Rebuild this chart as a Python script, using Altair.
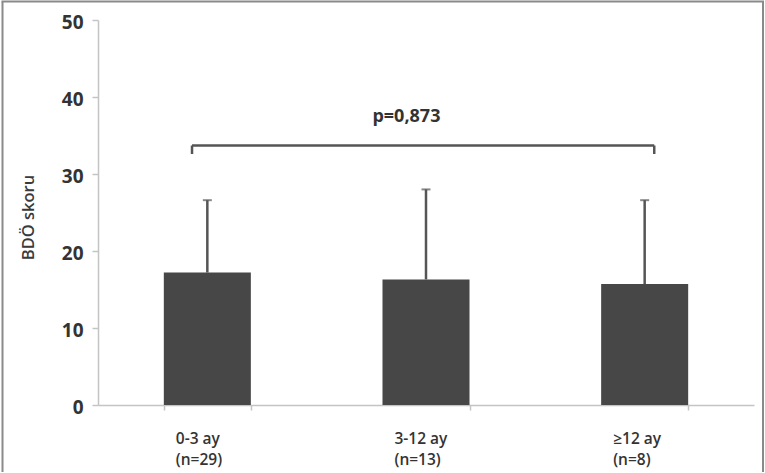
import altair as alt
import pandas as pd

# Data
categories = ["0-3 ay|(n=29)", "3-12 ay|(n=13)", "≥12 ay|(n=8)"]
means = [17.2, 16.3, 15.7]
sds = [9.4, 11.7, 10.9]
p_label = "p=0,873"
bracket_y = 33.7
bracket_drop = 32.6
p_y = 36.8

df = pd.DataFrame({"group": categories, "mean": means, "sd": sds})
df["upper"] = df["mean"] + df["sd"]

FONT = "Open Sans"
TXT = "#333333"
AXC = "#c4c4c4"

xscale = alt.Scale(domain=categories, paddingInner=0.602, paddingOuter=0.301)
yscale = alt.Scale(domain=[0, 50])

x_enc = alt.X(
    "group:N",
    sort=categories,
    scale=xscale,
    axis=alt.Axis(
        title=None,
        labelExpr="split(datum.label, '|')",
        labelAngle=0,
        labelFont=FONT,
        labelFontSize=15.5,
        labelFontWeight=600,
        labelColor=TXT,
        labelLineHeight=21,
        labelPadding=21,
        labelBaseline="top",
        labelAlign="left",
        labelOffset=-32,
        tickBand="extent",
        tickSize=5,
        tickColor=AXC,
        tickWidth=1.5,
        domainColor=AXC,
        domainWidth=1.5,
    ),
)

y_enc = alt.Y(
    "mean:Q",
    scale=yscale,
    axis=alt.Axis(
        title="BDÖ skoru",
        values=[0, 10, 20, 30, 40, 50],
        grid=False,
        labelFont=FONT,
        labelFontSize=19,
        labelFontWeight="bold",
        labelColor=TXT,
        labelPadding=9,
        labelOffset=2,
        tickSize=6,
        tickColor=AXC,
        tickWidth=1.5,
        domainColor=AXC,
        domainWidth=1.5,
        titleFont=FONT,
        titleFontSize=16.5,
        titleFontWeight=600,
        titleColor="#3a3a3a",
        titleAngle=-90,
        titleX=-70,
        titleY=197,
        titleAlign="center",
        titleBaseline="middle",
    ),
)

bars = alt.Chart(df).mark_bar(color="#474747").encode(x=x_enc, y=y_enc)

err = alt.Chart(df).mark_rule(color="#555555", strokeWidth=2.5).encode(
    x=alt.X("group:N", sort=categories, scale=xscale),
    y=alt.Y("mean:Q", scale=yscale),
    y2="upper:Q",
)

caps = alt.Chart(df).mark_tick(
    color="#555555", orient="horizontal", size=9, thickness=2
).encode(
    x=alt.X("group:N", sort=categories, scale=xscale),
    y=alt.Y("upper:Q", scale=yscale),
)

bdf = pd.DataFrame(
    {
        "start": [categories[0]],
        "end": [categories[2]],
        "mid": [categories[1]],
        "yb": [bracket_y],
        "yd": [bracket_drop],
        "py": [p_y],
        "label": [p_label],
    }
)

br_color = "#555555"
br_h = alt.Chart(bdf).mark_rule(color=br_color, strokeWidth=2.5).encode(
    x=alt.X("start:N", scale=xscale, bandPosition=0.324),
    x2=alt.X2("end:N", bandPosition=0.61),
    y=alt.Y("yb:Q", scale=yscale),
)
br_l = alt.Chart(bdf).mark_rule(color=br_color, strokeWidth=2.5).encode(
    x=alt.X("start:N", scale=xscale, bandPosition=0.324),
    y=alt.Y("yb:Q", scale=yscale),
    y2="yd:Q",
)
br_r = alt.Chart(bdf).mark_rule(color=br_color, strokeWidth=2.5).encode(
    x=alt.X("end:N", scale=xscale, bandPosition=0.61),
    y=alt.Y("yb:Q", scale=yscale),
    y2="yd:Q",
)
ptext = alt.Chart(bdf).mark_text(
    font=FONT, fontSize=18, fontWeight="bold", color=TXT, align="center", baseline="alphabetic"
).encode(
    x=alt.X("mid:N", scale=xscale, bandPosition=0.275),
    y=alt.Y("py:Q", scale=yscale),
    text="label:N",
)

# decorative frame around the figure (left, top, right edges)
fdf = pd.DataFrame({"k": [0]})
FR = "#8a8a8a"
frame_l = alt.Chart(fdf).mark_rule(color=FR, strokeWidth=2).encode(
    x=alt.value(-95.5), y=alt.value(-18.5), y2=alt.value(452)
)
frame_t = alt.Chart(fdf).mark_rule(color=FR, strokeWidth=2).encode(
    x=alt.value(-96.5), x2=alt.value(666), y=alt.value(-18.5)
)
frame_r = alt.Chart(fdf).mark_rule(color=FR, strokeWidth=2).encode(
    x=alt.value(665), y=alt.value(-18.5), y2=alt.value(452)
)

chart = (
    alt.layer(bars, err, caps, br_h, br_l, br_r, ptext, frame_l, frame_t, frame_r)
    .properties(width=656, height=385, padding=0, background="white")
    .configure_view(stroke=None)
)

chart.save("out.html", embed_options={"renderer": "svg", "actions": False})
